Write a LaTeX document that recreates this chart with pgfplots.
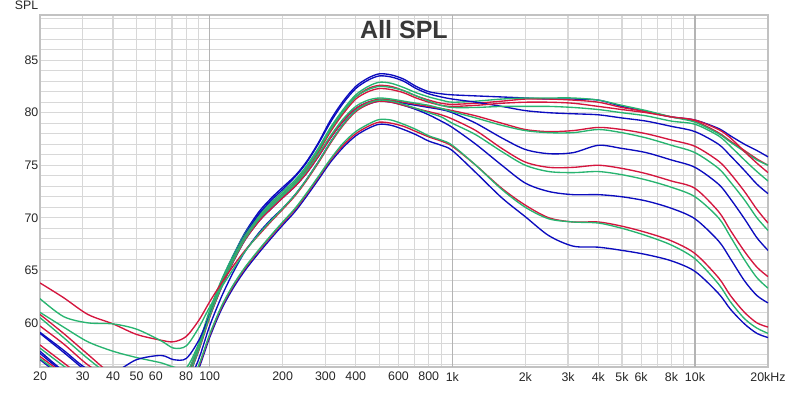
\documentclass[border=0pt]{standalone}
\usepackage{pgfplots}
\pgfplotsset{compat=1.18}
\usepackage{pgfplotstable}
\usepackage{fontspec}
\setmainfont{Liberation Sans}
\definecolor{cb}{RGB}{12,12,190}
\definecolor{cr}{RGB}{212,22,62}
\definecolor{cg}{RGB}{40,180,112}
\definecolor{gridc}{RGB}{216,216,216}
\definecolor{gridm}{RGB}{226,226,226}
\definecolor{decc}{RGB}{180,180,180}

\pgfplotstableread{
f b r g
20 57.3 60.8 61.0
25 55.4 59.0 59.6
31.5 53.8 57.0 58.2
40 53.0 55.0 57.3
50 53.0 54.0 56.7
63 53.0 53.5 56.2
71 53.0 53.5 55.8
80 54.5 55.0 55.7
90 57.5 57.8 58.0
100 61.0 61.0 61.2
112 64.0 63.9 64.1
125 66.4 66.2 66.4
140 68.6 68.3 68.5
160 70.6 70.1 70.3
180 71.9 71.3 71.5
200 72.9 72.3 72.5
225 74.0 73.4 73.6
250 75.3 74.7 74.9
280 77.1 76.4 76.6
315 79.3 78.4 78.6
355 81.1 80.1 80.3
400 82.5 81.5 81.7
450 83.3 82.3 82.5
500 83.7 82.6 82.9
560 83.6 82.5 82.8
630 83.2 82.1 82.4
710 82.5 81.6 81.9
800 82.0 81.2 81.5
900 81.8 80.9 81.2
1000 81.7 80.8 81.0
1250 81.6 80.9 81.1
1600 81.5 81.1 81.3
2000 81.4 81.3 81.4
2500 81.3 81.3 81.4
3150 81.3 81.2 81.4
4000 81.2 81.0 81.2
5000 80.6 80.5 80.7
6300 80.1 80.1 80.2
8000 79.6 79.6 79.6
10000 79.3 79.2 79.1
12500 78.5 78.1 78.0
14000 77.8 77.3 77.2
16000 77.0 76.4 76.3
18000 76.4 75.6 75.5
20000 75.8 75.0 75.0
}\gA

\pgfplotstableread{
f b r g
20 59.0 59.7 60.5
25 57.2 58.0 58.6
31.5 55.3 56.0 56.6
40 53.8 54.5 54.8
50 53.5 53.8 54.0
63 53.3 53.5 53.5
71 53.3 53.5 53.5
80 54.5 54.8 55.0
90 57.4 57.6 57.8
100 60.8 60.8 61.0
112 63.8 63.7 63.9
125 66.2 66.0 66.2
140 68.4 68.1 68.3
160 70.4 69.9 70.1
180 71.7 71.1 71.3
200 72.7 72.1 72.3
225 73.9 73.2 73.4
250 75.2 74.5 74.7
280 77.0 76.2 76.4
315 79.1 78.2 78.4
355 80.9 79.9 80.1
400 82.3 81.3 81.5
450 83.1 82.0 82.2
500 83.5 82.3 82.5
560 83.4 82.2 82.4
630 83.0 81.9 82.1
710 82.3 81.4 81.6
800 81.8 81.0 81.1
900 81.5 80.7 80.7
1000 81.3 80.6 80.5
1250 81.0 80.7 80.5
1600 80.6 80.9 80.6
2000 80.2 81.0 80.6
2500 80.0 81.0 80.6
3150 79.9 80.9 80.5
4000 79.8 80.6 80.3
5000 79.5 80.3 80.0
6300 79.2 80.0 79.7
8000 78.7 79.6 79.2
10000 78.2 79.3 78.9
12500 77.0 78.4 77.8
14000 75.9 77.6 76.8
16000 74.5 76.3 75.5
18000 73.2 75.2 74.4
20000 72.3 74.3 73.5
}\gB

\pgfplotstableread{
f b r g
20 59.1 57.9 57.6
25 57.4 56.2 55.9
31.5 55.6 54.5 54.3
40 55.3 53.5 53.3
50 56.5 53.2 53.0
63 56.9 53.0 53.0
71 56.5 53.2 53.2
80 56.6 54.5 54.5
90 58.3 57.3 57.4
100 60.7 60.5 60.6
112 63.4 63.4 63.5
125 65.8 65.8 65.9
140 67.9 67.9 68.0
160 69.7 69.7 69.9
180 70.9 70.9 71.1
200 71.9 71.9 72.1
225 73.0 73.0 73.2
250 74.2 74.2 74.4
280 75.8 75.8 76.0
315 77.6 77.6 77.8
355 79.2 79.2 79.4
400 80.4 80.4 80.6
450 81.0 81.0 81.2
500 81.2 81.3 81.4
560 81.1 81.2 81.3
630 80.9 81.0 81.1
710 80.7 80.8 80.9
800 80.5 80.6 80.7
900 80.3 80.4 80.4
1000 80.0 80.2 80.1
1250 79.0 79.7 79.5
1600 77.6 79.0 78.8
2000 76.5 78.4 78.3
2500 76.1 78.2 78.1
3150 76.2 78.3 78.1
4000 76.9 78.6 78.4
5000 76.6 78.4 78.1
6300 76.2 78.0 77.6
8000 75.5 77.4 76.9
10000 74.8 76.8 76.2
12500 73.2 75.4 74.7
14000 71.8 74.2 73.4
16000 69.9 72.5 71.7
18000 68.1 70.8 70.0
20000 66.9 69.5 68.8
}\gC

\pgfplotstableread{
f b r g
20 57.1 63.8 62.3
25 55.3 62.4 60.6
31.5 54.0 60.8 60.0
40 53.2 59.9 59.9
50 53.0 58.9 59.4
63 53.0 58.35 58.3
71 53.2 58.2 57.6
80 54.0 58.7 57.8
90 56.5 60.2 59.5
100 59.7 62.0 61.5
112 62.5 63.8 63.4
125 64.8 65.4 65.1
140 66.8 66.9 66.8
160 68.6 68.4 68.5
180 69.9 69.7 69.8
200 70.9 70.8 70.9
225 72.2 72.1 72.2
250 73.6 73.5 73.6
280 75.3 75.2 75.3
315 77.2 77.1 77.2
355 78.9 78.8 78.9
400 80.2 80.1 80.2
450 80.8 80.8 80.9
500 81.1 81.1 81.2
560 81.0 81.0 81.1
630 80.7 80.7 80.8
710 80.3 80.4 80.4
800 79.8 80.1 80.0
900 79.2 79.8 79.6
1000 78.6 79.4 79.0
1250 77.0 78.3 77.9
1600 75.0 76.6 76.3
2000 73.3 75.3 75.0
2500 72.5 74.8 74.4
3150 72.2 74.8 74.3
4000 72.2 75.0 74.4
5000 72.0 74.7 74.1
6300 71.6 74.2 73.6
8000 70.9 73.5 72.9
10000 69.9 72.8 72.0
12500 67.8 70.6 70.0
14000 66.1 68.8 68.2
16000 64.0 66.8 66.0
18000 62.6 65.3 64.3
20000 61.9 64.4 63.3
}\gD

\pgfplotstableread{
f b r g
20 56.5 56.8 56.6
25 54.8 55.2 55.0
31.5 53.5 54.0 53.8
40 53.0 53.2 53.0
50 53.0 53.0 53.0
63 53.0 53.0 53.0
71 53.0 53.0 53.0
80 53.3 53.5 53.5
90 55.6 55.8 55.9
100 58.6 58.8 58.9
112 61.3 61.5 61.6
125 63.3 63.5 63.6
140 65.0 65.2 65.3
160 66.7 66.9 67.0
180 68.1 68.3 68.4
200 69.3 69.5 69.6
225 70.6 70.8 70.9
250 72.0 72.2 72.3
280 73.6 73.8 73.9
315 75.3 75.5 75.6
355 76.7 76.9 77.1
400 77.8 78.0 78.2
450 78.5 78.7 78.9
500 78.9 79.1 79.35
560 78.8 79.0 79.3
630 78.4 78.7 78.9
710 77.9 78.2 78.4
800 77.3 77.7 77.8
900 76.9 77.3 77.4
1000 76.4 76.8 76.9
1250 74.3 75.0 75.0
1600 71.9 72.8 72.7
2000 70.1 71.2 71.0
2500 68.3 70.0 69.9
3150 67.3 69.6 69.6
4000 67.2 69.6 69.5
5000 66.9 69.2 69.0
6300 66.5 68.6 68.3
8000 65.9 67.8 67.4
10000 64.9 66.6 66.1
12500 62.8 64.3 63.7
14000 61.3 62.6 62.0
16000 59.9 61.0 60.4
18000 59.0 60.0 59.5
20000 58.6 59.6 59.0
}\gE

\begin{document}
\begin{tikzpicture}[x=1pt,y=1pt]
\path[use as bounding box] (0,0) rectangle (792,393);
\begin{axis}[
  at={(40pt,26pt)}, anchor=south west,
  scale only axis, width=728pt, height=352pt,
  xmode=log, log basis x=10,
  xmin=20, xmax=20000, ymin=55.8, ymax=89.3,
  xtick={20,30,40,50,60,80,100,200,300,400,600,800,1000,2000,3000,4000,5000,6000,8000,10000,20000},
  xticklabels={20,30,40,50,60,80,100,200,300,400,600,800,1k,2k,3k,4k,5k,6k,8k,10k,20kHz},
  minor xtick={70,90,500,700,900,7000,9000},
  extra x ticks={100,1000,10000},
  extra x tick labels={},
  extra x tick style={grid=major, major grid style={decc, line width=1.3pt}},
  ytick={60,65,70,75,80,85},
  yticklabels={60,65,70,75,80,85},
  minor ytick={56,57,58,59,61,62,63,64,66,67,68,69,71,72,73,74,76,77,78,79,81,82,83,84,86,87,88,89},
  grid=both,
  major grid style={gridc, line width=1.2pt},
  minor grid style={gridc, line width=1.2pt},
  major tick length=0pt, minor tick length=0pt,
  axis line style={draw=gridc!90!black, line width=1.2pt},
  tick label style={font=\fontsize{12.4}{14}\selectfont, text=black!85},
  yticklabel style={inner sep=1.5pt},
  xticklabel style={inner sep=2pt, yshift=-3pt},
  every axis plot/.append style={line width=1.35pt, smooth},
]
\addplot[cb] table[x=f,y=b] {\gA};
\addplot[cr] table[x=f,y=r] {\gA};
\addplot[cg] table[x=f,y=g] {\gA};
\addplot[cb] table[x=f,y=b] {\gB};
\addplot[cr] table[x=f,y=r] {\gB};
\addplot[cg] table[x=f,y=g] {\gB};
\addplot[cb] table[x=f,y=b] {\gC};
\addplot[cr] table[x=f,y=r] {\gC};
\addplot[cg] table[x=f,y=g] {\gC};
\addplot[cb] table[x=f,y=b] {\gD};
\addplot[cr] table[x=f,y=r] {\gD};
\addplot[cg] table[x=f,y=g] {\gD};
\addplot[cb] table[x=f,y=b] {\gE};
\addplot[cr] table[x=f,y=r] {\gE};
\addplot[cg] table[x=f,y=g] {\gE};
\end{axis}
\node[font=\bfseries\fontsize{25}{28}\selectfont, text=black!78] at (404,363) {All SPL};
\node[font=\fontsize{12.3}{14}\selectfont, text=black!85] at (26.5,387.5) {SPL};
\end{tikzpicture}
\end{document}
